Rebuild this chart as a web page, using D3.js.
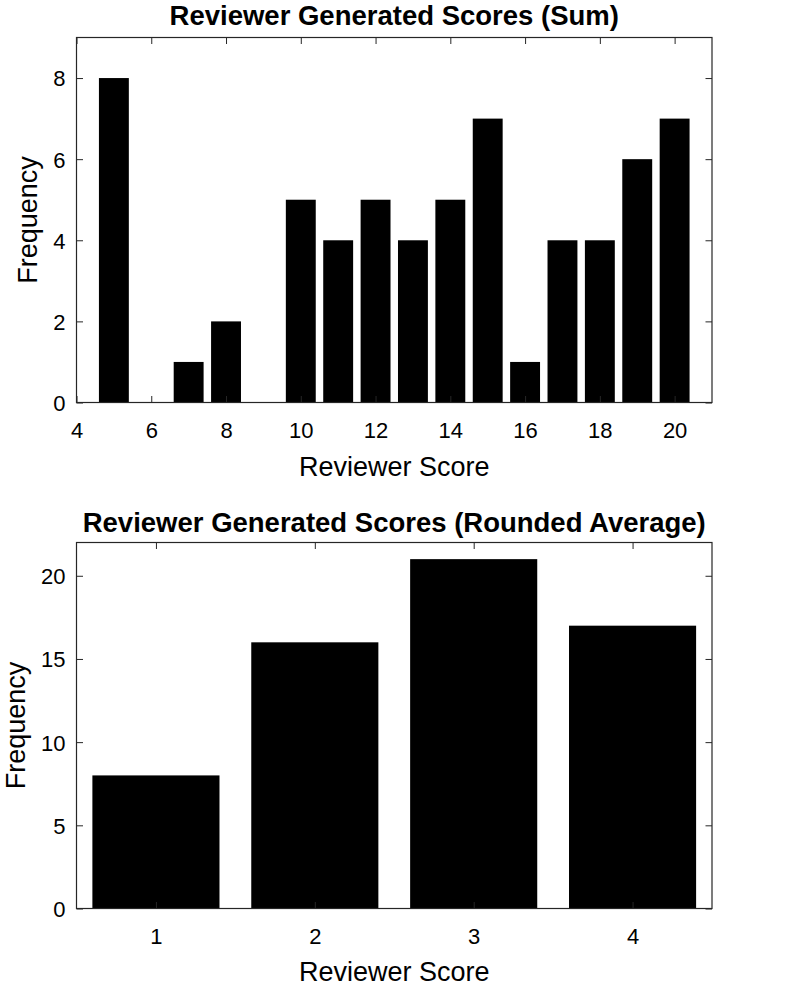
<!DOCTYPE html>
<html><head><meta charset="utf-8">
<script src="https://cdn.jsdelivr.net/npm/d3@7"></script>
<style>body{margin:0;background:#fff}svg{display:block}text{font-family:"Liberation Sans",Arial,Helvetica,sans-serif;fill:#000}</style>
</head><body>
<script>
const sumScores = [5,6,7,8,9,10,11,12,13,14,15,16,17,18,19,20];
const sumFreq   = [8,0,1,2,0,5,4,5,4,5,7,1,4,4,6,7];
const sumXTicks = [4,6,8,10,12,14,16,18,20];
const sumYTicks = [0,2,4,6,8];

const avgScores = [1,2,3,4];
const avgFreq   = [8,16,21,17];
const avgXTicks = [1,2,3,4];
const avgYTicks = [0,5,10,15,20];

const W = 786, H = 988;
const svg = d3.select("body").append("svg").attr("width", W).attr("height", H);
const FF = '"Liberation Sans",Arial,Helvetica,sans-serif';

function panel(o) {
  const g = svg.append("g");
  const x = d3.scaleLinear().domain(o.xd).range([o.left, o.right]);
  const y = d3.scaleLinear().domain(o.yd).range([o.bottom, o.top]);
  const bw = (x(1) - x(0)) * 0.8;
  g.selectAll("rect.bar").data(o.cats).join("rect")
    .attr("x", (d) => x(d) - bw/2)
    .attr("width", bw)
    .attr("y", (d,i) => y(o.vals[i]))
    .attr("height", (d,i) => y(0) - y(o.vals[i]))
    .attr("fill", "#000");
  const tl = 6.5, col = "#262626", fmt = d3.format("d");
  const ax = (gen, tr) => g.append("g").attr("transform", tr).call(gen)
      .call(s => { s.select(".domain").remove(); s.selectAll("line").attr("stroke", col).attr("stroke-width", 1); });
  const bx = ax(d3.axisBottom(x).tickValues(o.xt).tickFormat(fmt).tickSizeInner(-tl).tickSizeOuter(0).tickPadding(0), `translate(0,${o.bottom})`);
  bx.selectAll("text").attr("font-size", 22).attr("dy", null).attr("y", 35.5).attr("font-family", FF).attr("fill", "#000");
  ax(d3.axisTop(x).tickValues(o.xt).tickSizeInner(-tl).tickSizeOuter(0).tickFormat(""), `translate(0,${o.top})`);
  const ly = ax(d3.axisLeft(y).tickValues(o.yt).tickFormat(fmt).tickSizeInner(-tl).tickSizeOuter(0).tickPadding(0), `translate(${o.left},0)`);
  ly.selectAll("text").attr("font-size", 22).attr("x", -11).attr("dy", "0.36em").attr("font-family", FF).attr("fill", "#000");
  ax(d3.axisRight(y).tickValues(o.yt).tickSizeInner(-tl).tickSizeOuter(0).tickFormat(""), `translate(${o.right},0)`);
  g.append("rect").attr("x", o.left).attr("y", o.top).attr("width", o.right - o.left).attr("height", o.bottom - o.top)
    .attr("fill", "none").attr("stroke", col).attr("stroke-width", 1.2);
  g.append("text").attr("x", (o.left + o.right)/2).attr("y", o.titleY).attr("text-anchor", "middle")
    .attr("font-size", 27.5).attr("font-weight", "bold").text(o.title);
  g.append("text").attr("x", (o.left + o.right)/2).attr("y", o.xlabY).attr("text-anchor", "middle")
    .attr("font-size", 27).text("Reviewer Score");
  g.append("text").attr("transform", `translate(${o.ylabX},${(o.top + o.bottom)/2}) rotate(-90)`).attr("text-anchor", "middle")
    .attr("font-size", 27).text("Frequency");
}

panel({cats: sumScores, vals: sumFreq, xd: [4,21], yd: [0,9], xt: sumXTicks, yt: sumYTicks,
  left: 76.5, right: 712, top: 37.5, bottom: 402.5, title: "Reviewer Generated Scores (Sum)",
  titleY: 25, xlabY: 475.5, ylabX: 37});
panel({cats: avgScores, vals: avgFreq, xd: [0.5,4.5], yd: [0,22], xt: avgXTicks, yt: avgYTicks,
  left: 76.5, right: 712, top: 542.5, bottom: 908.5, title: "Reviewer Generated Scores (Rounded Average)",
  titleY: 531.5, xlabY: 981, ylabX: 25});
</script>
</body></html>
